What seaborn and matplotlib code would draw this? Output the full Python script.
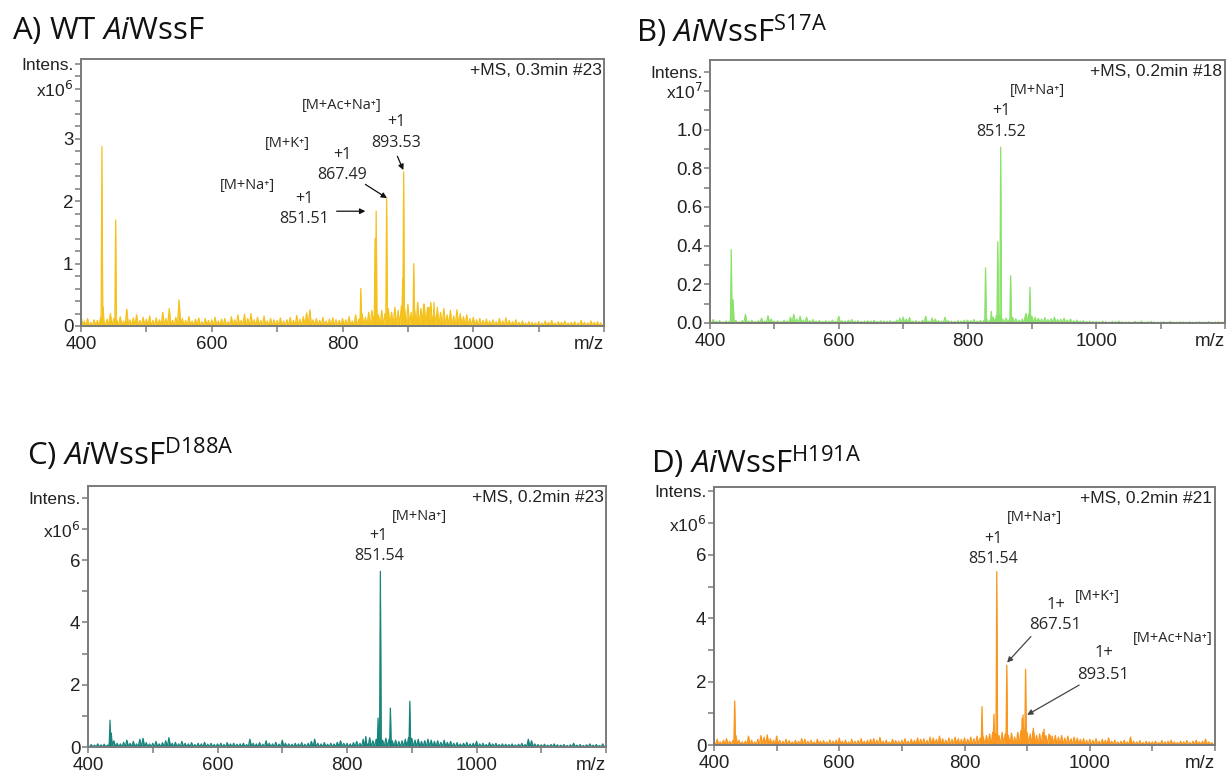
import numpy as np
import pandas as pd
import matplotlib
matplotlib.use("Agg")
import matplotlib.pyplot as plt
import seaborn as sns

sns.set_theme(style="white")
plt.rcParams["font.family"] = ["Liberation Sans", "DejaVu Sans"]
plt.rcParams["mathtext.rm"] = "Open Sans"
plt.rcParams["mathtext.it"] = "Open Sans:italic"
plt.rcParams["mathtext.bf"] = "Open Sans:bold"

# ---------------------------------------------------------------- data
# baseline noise, sampled every 5 m/z from 400 to 1195
noise_mz = np.arange(400, 1200, 5)

# panel A (x10^6, hundredths)
noise_a = [17, 8, 12, 6, 10, 9, 14, 7, 11, 20,
           12, 9, 15, 8, 27, 10, 13, 18, 9, 14,
           11, 16, 9, 13, 10, 22, 12, 28, 9, 14,
           42, 12, 9, 15, 8, 11, 13, 7, 12, 9,
           10, 14, 8, 11, 12, 7, 15, 10, 18, 9,
           19, 12, 20, 10, 14, 9, 16, 8, 12, 10,
           9, 13, 8, 10, 14, 9, 17, 11, 15, 21,
           26, 10, 12, 9, 14, 8, 11, 13, 10, 9,
           12, 10, 15, 8, 18, 11, 20, 14, 22, 25,
           30, 18, 25, 20, 28, 22, 30, 25, 32, 28,
           35, 22, 30, 38, 28, 35, 30, 38, 25, 30,
           22, 28, 18, 25, 16, 26, 20, 15, 18, 12,
           14, 10, 12, 9, 11, 8, 10, 7, 12, 8,
           13, 9, 7, 10, 6, 8, 5, 7, 6, 5,
           7, 5, 8, 6, 9, 5, 7, 6, 8, 5,
           6, 7, 5, 9, 6, 5, 8, 6, 7, 5]
# panel B (x10^7, thousandths)
noise_b = [5, 18, 8, 12, 6, 10, 8, 30, 14, 6,
           12, 45, 10, 15, 8, 12, 25, 10, 38, 20,
           10, 12, 8, 15, 10, 30, 45, 20, 35, 15,
           30, 12, 18, 10, 14, 8, 12, 10, 15, 9,
           35, 12, 10, 14, 18, 10, 12, 8, 10, 12,
           10, 14, 8, 12, 10, 9, 12, 8, 15, 25,
           30, 20, 28, 10, 12, 8, 14, 35, 10, 25,
           20, 12, 10, 30, 12, 10, 8, 12, 10, 14,
           15, 12, 18, 10, 14, 12, 20, 15, 30, 40,
           35, 20, 25, 18, 30, 22, 15, 20, 40, 45,
           35, 30, 25, 20, 28, 18, 22, 30, 18, 20,
           25, 15, 20, 12, 15, 10, 12, 8, 10, 8,
           8, 6, 10, 7, 5, 8, 6, 10, 6, 5,
           6, 4, 8, 5, 10, 4, 6, 8, 5, 4,
           5, 6, 4, 8, 5, 4, 6, 5, 4, 6,
           4, 5, 6, 4, 5, 7, 4, 5, 6, 4]
# panel C (x10^6, hundredths)
noise_c = [5, 8, 6, 10, 7, 9, 6, 40, 20, 12,
           10, 15, 22, 12, 18, 10, 25, 28, 14, 10,
           12, 18, 10, 14, 20, 30, 12, 15, 10, 18,
           12, 10, 14, 8, 12, 10, 15, 9, 12, 8,
           10, 12, 8, 14, 10, 12, 9, 10, 12, 8,
           25, 12, 10, 14, 9, 20, 12, 10, 15, 9,
           22, 12, 10, 9, 12, 10, 14, 9, 12, 18,
           25, 12, 10, 14, 9, 12, 10, 15, 20, 12,
           12, 10, 14, 18, 12, 25, 15, 30, 20, 25,
           30, 22, 28, 25, 20, 22, 18, 20, 25, 30,
           28, 22, 25, 18, 20, 25, 22, 18, 20, 15,
           22, 15, 18, 12, 14, 10, 12, 15, 10, 12,
           18, 10, 12, 8, 14, 10, 12, 8, 10, 9,
           8, 10, 7, 9, 12, 8, 25, 20, 10, 8,
           7, 9, 6, 8, 10, 7, 6, 8, 5, 7,
           12, 6, 8, 5, 7, 10, 6, 8, 5, 10]
# panel D (x10^6, hundredths)
noise_d = [12, 18, 10, 15, 20, 12, 14, 30, 15, 10,
           12, 28, 15, 10, 18, 30, 25, 32, 20, 15,
           28, 15, 12, 18, 14, 10, 15, 12, 20, 18,
           12, 15, 10, 18, 12, 14, 10, 16, 12, 15,
           22, 12, 15, 10, 18, 12, 14, 20, 12, 15,
           18, 20, 15, 24, 12, 15, 10, 18, 14, 12,
           15, 20, 12, 18, 15, 22, 18, 20, 15, 25,
           22, 18, 28, 20, 15, 22, 18, 25, 20, 18,
           22, 18, 25, 20, 28, 22, 25, 30, 35, 40,
           35, 30, 40, 35, 30, 38, 25, 40, 45, 50,
           40, 35, 45, 30, 35, 40, 30, 35, 28, 30,
           25, 30, 22, 28, 20, 25, 22, 18, 20, 15,
           18, 15, 20, 12, 18, 15, 22, 12, 15, 10,
           12, 15, 10, 25, 12, 10, 14, 8, 12, 10,
           10, 12, 8, 14, 10, 12, 15, 10, 8, 12,
           10, 14, 8, 12, 15, 10, 12, 18, 10, 8]

# main peaks (m/z, intensity)
peaks_a_mz = [432.0, 434.0, 453.0, 828.0, 849.8, 851.51, 867.49, 892.0, 893.53, 909.0, 924.0, 932.0, 940.0]
peaks_a_int = [2.88, 0.30, 1.70, 0.60, 1.40, 1.84, 2.05, 0.75, 2.47, 1.00, 0.35, 0.30, 0.38]
peaks_b_mz = [433.0, 436.0, 828.0, 837.0, 847.0, 851.52, 867.0, 891.0, 897.0]
peaks_b_int = [0.38, 0.12, 0.285, 0.06, 0.42, 0.91, 0.245, 0.05, 0.185]
peaks_c_mz = [434.0, 436.0, 829.0, 848.0, 851.54, 867.0, 897.0]
peaks_c_int = [0.86, 0.45, 0.34, 0.93, 5.64, 1.25, 1.47]
peaks_d_mz = [433.0, 828.0, 847.0, 851.54, 867.51, 892.0, 893.51, 897.5, 910.0, 927.0, 937.0]
peaks_d_int = [1.39, 1.21, 0.97, 5.47, 2.52, 0.84, 0.95, 2.39, 0.53, 0.50, 0.30]

scan_labels = ["+MS, 0.3min #23", "+MS, 0.2min #18", "+MS, 0.2min #23", "+MS, 0.2min #21"]
x_tick_vals = [400, 600, 800, 1000, 1200]
x_tick_text = ["400", "600", "800", "1000", "m/z"]

# ---------------------------------------------------------------- helpers
W, H = 1227, 774
fig = plt.figure(figsize=(W / 100, H / 100), dpi=100)


def box(left, top, right, bottom):
    return [left / W, 1 - bottom / H, (right - left) / W, (bottom - top) / H]


def spectrum(noise, scale, mz, inten):
    sticks = [(m, v * scale, 2.5) for m, v in zip(noise_mz, noise)]
    sticks += [(m, v, 1.3) for m, v in zip(mz, inten)]
    sticks.sort(key=lambda s: s[0])
    xs, ys = [], []
    for m, h, w in sticks:
        xs += [m - w, m, m + w]
        ys += [0.0, h, 0.0]
    return pd.DataFrame({"mz": xs, "intensity": ys})


def setup(ax, ytop, major, labels, minor, expo):
    ax.set_xlim(400, 1200)
    ax.set_ylim(0, ytop)
    for s in ax.spines.values():
        s.set_color("#7a7a7a")
        s.set_linewidth(1.4)
    ax.set_xticks(x_tick_vals)
    ax.set_xticklabels(x_tick_text)
    ax.set_xticks(np.arange(400, 1201, 100), minor=True)
    ticks = list(major) + [expo[0], expo[1]]
    ax.set_yticks(ticks)
    ax.set_yticklabels(list(labels) + [expo[2], "Intens."])
    ax.set_yticks(minor, minor=True)
    ax.tick_params(which="both", direction="out", length=4, width=1.1,
                   color="#7a7a7a", labelcolor="#222222", labelsize=13.5,
                   bottom=True, left=True)
    ax.tick_params(axis="y", which="both", pad=1.5)
    ax.tick_params(axis="x", which="both", pad=3.5)
    for lab in ax.get_yticklabels()[-2:]:
        lab.set_fontsize(12.5)
    ax.get_xticklabels()[-1].set_horizontalalignment("right")
    ax.set_xlabel("")
    ax.set_ylabel("")


def draw(ax, df, color):
    sns.lineplot(data=df, x="mz", y="intensity", sort=False, estimator=None,
                 color=color, lw=0.9, ax=ax)
    ax.fill_between(df["mz"], df["intensity"], color=color, lw=0)


ann_font = ["Open Sans", "DejaVu Sans"]


def label(ax, s, x, y, size=11.5):
    ax.text(x, y, s, ha="center", va="center", fontsize=size,
            family=ann_font, color="#262626")


def arrow(ax, x0, y0, x1, y1, color="#111111"):
    ax.annotate("", xy=(x1, y1), xytext=(x0, y0),
                arrowprops=dict(arrowstyle="-|>", color=color, lw=0.9,
                                mutation_scale=8, shrinkA=0, shrinkB=0))


colors = ["#F5C11C", "#8BE26A", "#17857D", "#F8961E"]

axA = fig.add_axes(box(81, 59, 604, 326))
axB = fig.add_axes(box(710, 60, 1225, 323))
axC = fig.add_axes(box(88, 486, 606, 747))
axD = fig.add_axes(box(714, 487, 1215, 745))

draw(axA, spectrum(noise_a, 0.01, peaks_a_mz, peaks_a_int), colors[0])
draw(axB, spectrum(noise_b, 0.001, peaks_b_mz, peaks_b_int), colors[1])
draw(axC, spectrum(noise_c, 0.01, peaks_c_mz, peaks_c_int), colors[2])
draw(axD, spectrum(noise_d, 0.01, peaks_d_mz, peaks_d_int), colors[3])

setup(axA, 4.28, [0, 1, 2, 3], ["0", "1", "2", "3"], np.arange(0, 4.29, 0.2),
      (3.8, 4.2, r"x10$^6$"))
setup(axB, 1.36, [0, 0.2, 0.4, 0.6, 0.8, 1.0], ["0.0", "0.2", "0.4", "0.6", "0.8", "1.0"],
      np.arange(0, 1.37, 0.1), (1.2, 1.3, r"x10$^7$"))
setup(axC, 8.38, [0, 2, 4, 6], ["0", "2", "4", "6"], np.arange(0, 8.4, 1),
      (7, 8, r"x10$^6$"))
setup(axD, 8.14, [0, 2, 4, 6], ["0", "2", "4", "6"], np.arange(0, 8.2, 1),
      (7, 8, r"x10$^6$"))

for ax, s in zip([axA, axB, axC, axD], scan_labels):
    ax.text(0.995, 0.985, s, transform=ax.transAxes, ha="right", va="top",
            fontsize=12.5, color="#222222")

# panel A annotations
label(axA, "[M+Na⁺]", 654, 2.25, 10.5)
label(axA, "+1", 741, 2.03)
label(axA, f"{peaks_a_mz[5]:.2f}", 741, 1.71)
arrow(axA, 791, 1.84, 835, 1.84)
label(axA, "[M+K⁺]", 716, 2.93, 10.5)
label(axA, "+1", 800, 2.74)
label(axA, f"{peaks_a_mz[6]:.2f}", 799, 2.42)
arrow(axA, 835, 2.27, 868, 2.05)
label(axA, "[M+Ac+Na⁺]", 799, 3.53, 10.5)
label(axA, "+1", 883, 3.27)
label(axA, f"{peaks_a_mz[8]:.2f}", 882, 2.94)
arrow(axA, 884, 2.72, 893, 2.50)

# panel B annotations
label(axB, "[M+Na⁺]", 909, 1.20, 10.5)
label(axB, "+1", 852, 1.094)
label(axB, f"{peaks_b_mz[5]:.2f}", 852, 0.99)

# panel C annotations
label(axC, "[M+Na⁺]", 912, 7.40, 10.5)
label(axC, "+1", 849, 6.76)
label(axC, f"{peaks_c_mz[4]:.2f}", 849, 6.12)

# panel D annotations
label(axD, "[M+Na⁺]", 912, 7.17, 10.5)
label(axD, "+1", 846, 6.49)
label(axD, f"{peaks_d_mz[3]:.2f}", 846, 5.86)
label(axD, "[M+K⁺]", 1012, 4.68, 10.5)
label(axD, "1+", 946, 4.42, 12)
label(axD, f"{peaks_d_mz[4]:.2f}", 945, 3.79, 12)
arrow(axD, 906, 3.42, 868, 2.60, "#444444")
label(axD, "[M+Ac+Na⁺]", 1132, 3.37, 10.5)
label(axD, "1+", 1022, 2.89, 12)
label(axD, f"{peaks_d_mz[6]:.2f}", 1022, 2.21, 12)
arrow(axD, 983, 1.89, 900, 0.95, "#444444")

# panel titles
title_kw = dict(fontsize=22.5, family=["Open Sans", "DejaVu Sans"],
                math_fontfamily="custom", color="#111111", va="baseline", ha="left")
fig.text(12 / W, 1 - 39 / H, r"A) WT $\mathit{Ai}$WssF", **title_kw)
fig.text(636 / W, 1 - 42 / H, r"B) $\mathit{Ai}\mathrm{WssF}^{\mathrm{S17A}}$", **title_kw)
fig.text(27 / W, 1 - 465 / H, r"C) $\mathit{Ai}\mathrm{WssF}^{\mathrm{D188A}}$", **title_kw)
fig.text(651 / W, 1 - 473 / H, r"D) $\mathit{Ai}\mathrm{WssF}^{\mathrm{H191A}}$", **title_kw)

fig.savefig("out.png", dpi=100, facecolor="white")
